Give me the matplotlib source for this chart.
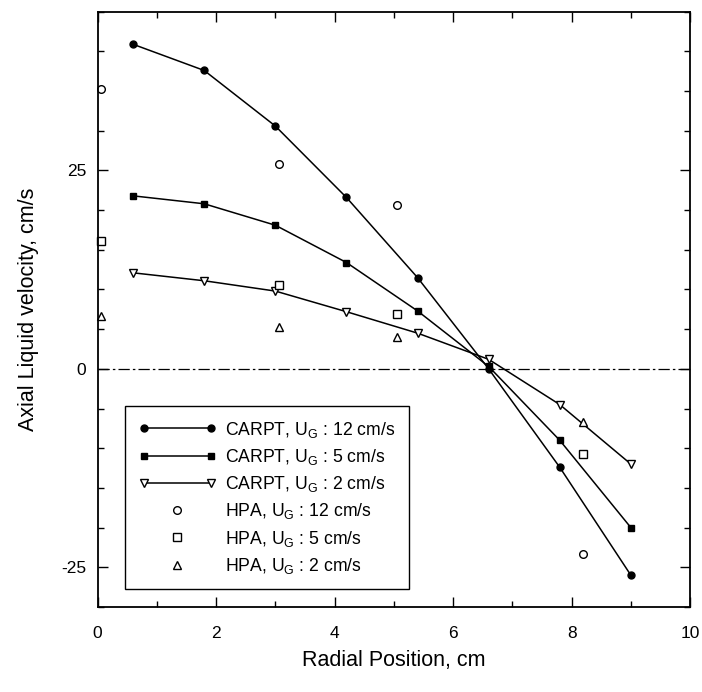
import matplotlib
matplotlib.use("Agg")
import matplotlib.pyplot as plt
from matplotlib.legend_handler import HandlerLine2D
from matplotlib.ticker import MultipleLocator

plt.rcParams['font.family'] = ['Liberation Sans', 'DejaVu Sans']
plt.rcParams['mathtext.fontset'] = 'custom'
plt.rcParams['mathtext.rm'] = 'Liberation Sans'
plt.rcParams['axes.unicode_minus'] = False

# CARPT data (lines + filled/open markers)
r_carpt = [0.6, 1.8, 3.0, 4.2, 5.4, 6.6, 7.8, 9.0]
v_carpt_12 = [40.9, 37.6, 30.6, 21.6, 11.5, 0.0, -12.4, -26.0]
v_carpt_5 = [21.8, 20.8, 18.1, 13.4, 7.3, 0.3, -9.0, -20.0]
v_carpt_2 = [12.1, 11.1, 9.8, 7.2, 4.5, 1.2, -4.5, -12.0]

# HPA data (open markers only)
r_hpa = [0.05, 3.07, 5.05, 8.2]
v_hpa_12 = [35.3, 25.8, 20.6, -23.3]
v_hpa_5 = [16.1, 10.6, 6.9, -10.7]
v_hpa_2 = [6.6, 5.3, 4.0, -6.7]

ug = r'U$_\mathregular{G}$'

fig = plt.figure(figsize=(7.02, 6.92), dpi=100)
ax = fig.add_axes([0.139, 0.123, 0.844, 0.860])

ax.axhline(0, color='black', lw=0.9, ls=(0, (9, 2.5, 2, 2.5)))

lc12, = ax.plot(r_carpt, v_carpt_12, '-', marker='o', color='black', lw=1.1, ms=5,
                label='CARPT, ' + ug + ' : 12 cm/s')
lc5, = ax.plot(r_carpt, v_carpt_5, '-', marker='s', color='black', lw=1.1, ms=5,
               label='CARPT, ' + ug + ' : 5 cm/s')
lc2, = ax.plot(r_carpt, v_carpt_2, '-', marker='v', color='black', lw=1.1, ms=6,
               mfc='white', mew=1, label='CARPT, ' + ug + ' : 2 cm/s')
lh12, = ax.plot(r_hpa, v_hpa_12, 'o', color='black', ms=5.5, mfc='white', mew=1,
                label='HPA, ' + ug + ' : 12 cm/s', clip_on=False)
lh5, = ax.plot(r_hpa, v_hpa_5, 's', color='black', ms=5.5, mfc='white', mew=1,
               label='HPA, ' + ug + ' : 5 cm/s', clip_on=False)
lh2, = ax.plot(r_hpa, v_hpa_2, '^', color='black', ms=5.5, mfc='white', mew=1,
               label='HPA, ' + ug + ' : 2 cm/s', clip_on=False)

ax.set_xlim(0, 10)
ax.set_ylim(-30, 45)
ax.xaxis.set_major_locator(MultipleLocator(2))
ax.xaxis.set_minor_locator(MultipleLocator(1))
ax.yaxis.set_major_locator(MultipleLocator(25))
ax.yaxis.set_minor_locator(MultipleLocator(5))
ax.tick_params(which='both', direction='in', top=True, right=True, width=1)
ax.tick_params(which='major', length=7, labelsize=12.5)
ax.tick_params(axis='x', which='major', pad=14)
ax.tick_params(axis='y', which='major', pad=8)
ax.tick_params(which='minor', length=4)
for s in ax.spines.values():
    s.set_linewidth(1.3)

ax.set_xlabel('Radial Position, cm', fontsize=15.5, labelpad=6)
ax.set_ylabel('Axial Liquid velocity, cm/s', fontsize=15.5, labelpad=16)

one = HandlerLine2D(numpoints=1)
leg = ax.legend(handles=[lc12, lc5, lc2, lh12, lh5, lh2],
                handler_map={lh12: one, lh5: one, lh2: one},
                loc='lower left', bbox_to_anchor=(0.047, 0.030),
                fontsize=12.7, numpoints=2, handlelength=4.4, handletextpad=0.5,
                labelspacing=0.41, borderpad=0.75, borderaxespad=0,
                fancybox=False, framealpha=1, edgecolor='black')
leg.get_frame().set_linewidth(1.0)

fig.savefig('out.png', dpi=100)
